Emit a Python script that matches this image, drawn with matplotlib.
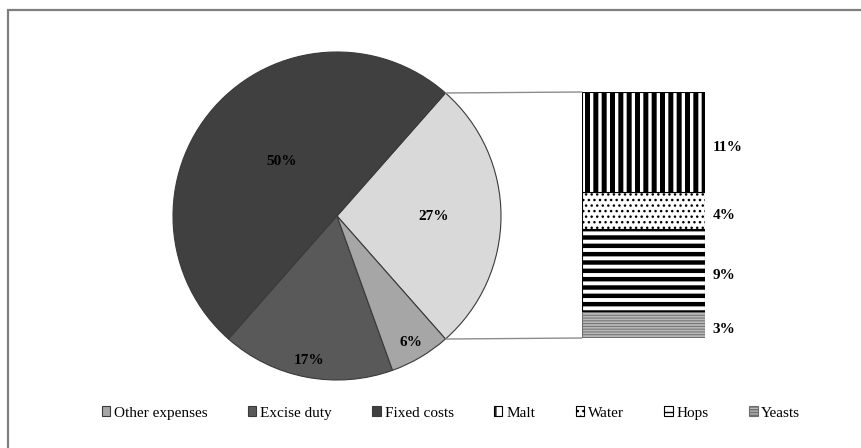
import numpy as np
import matplotlib
matplotlib.use("Agg")
import matplotlib.pyplot as plt
from matplotlib.patches import ConnectionPatch, Rectangle

plt.rcParams['font.family'] = ['Liberation Serif', 'DejaVu Serif']

# pie part
pie_labels = ["Other costs", "Fixed costs", "Excise duty", "Other expenses"]
pie_values = [27, 50, 17, 6]
pie_colors = ["#d9d9d9", "#404040", "#595959", "#a6a6a6"]

# bar part (breakdown of the 27% slice), bottom -> top
bar_labels = ["Yeasts", "Hops", "Water", "Malt"]
bar_values = [3, 9, 4, 11]
bar_hatch = ["------", "--", "...", "||"]
bar_face = ["#b8b8b8", "white", "white", "white"]
bar_edge = ["#6e6e6e", "black", "black", "black"]
bar_hlw = [0.7, 3.2, 1.0, 3.6]

legend_order = ["Other expenses", "Excise duty", "Fixed costs", "Malt", "Water", "Hops", "Yeasts"]

W, H = 861, 448
fig = plt.figure(figsize=(W / 100, H / 100), dpi=100)


def box(x0, y0, x1, y1):
    return [x0 / W, 1 - y1 / H, (x1 - x0) / W, (y1 - y0) / H]


# outer border (cut off at right/bottom as in the reference)
fig.patches.append(Rectangle((8 / W, -0.1), 1.2, 1 - 10 / H + 0.1, transform=fig.transFigure,
                             fill=False, edgecolor="#7f7f7f", linewidth=1.6))

ax = fig.add_axes(box(173, 52, 501, 380))
half = pie_values[0] / 100 * 360 / 2
wedges, _, autotexts = ax.pie(pie_values, colors=pie_colors, startangle=-half, counterclock=True,
                              radius=1, autopct=lambda p: f"{p:.0f}%",
                              wedgeprops=dict(edgecolor="#3a3a3a", linewidth=0.8),
                              textprops=dict(fontsize=11, fontweight="bold", color="black"))
label_pos = [(0.59, 0.0), (-0.34, 0.33), (-0.17, -0.88), (0.45, -0.77)]
for t, p in zip(autotexts, label_pos):
    t.set_position(p)
ax.set_xlim(-1, 1)
ax.set_ylim(-1, 1)
ax.set_aspect("equal")
ax.axis("off")

bx = fig.add_axes(box(582, 92, 705, 338))
bottom = 0
bars = []
for lab, v, h, fc, ec, lw in zip(bar_labels, bar_values, bar_hatch, bar_face, bar_edge, bar_hlw):
    b = bx.bar(0.5, v, width=1, bottom=bottom, color=fc, edgecolor=ec, hatch=h, linewidth=0.8, label=lab)
    for p in b:
        try:
            p.set_hatch_linewidth(lw)
        except AttributeError:
            pass
    bars.append(b[0])
    bx.text(1.06, bottom + v / 2 - 0.6, f"{v}%", ha="left", va="center",
            fontsize=11, fontweight="bold", color="black")
    bottom += v
bx.set_xlim(0, 1)
bx.set_ylim(0, sum(bar_values))
bx.axis("off")

# connecting lines
ang = np.deg2rad(half)
for yb, s in [(sum(bar_values), 1), (0, -1)]:
    con = ConnectionPatch(xyA=(np.cos(ang), s * np.sin(ang)), coordsA=ax.transData,
                          xyB=(0, yb), coordsB=bx.transData, color="#8c8c8c", linewidth=1)
    fig.add_artist(con)

handles = {"Other expenses": wedges[3], "Excise duty": wedges[2], "Fixed costs": wedges[1]}
for lab, b in zip(bar_labels, bars):
    handles[lab] = b
fig.legend([handles[k] for k in legend_order], legend_order, loc="center",
           bbox_to_anchor=(451 / W, 1 - 413 / H), ncol=7, frameon=False,
           fontsize=11, handlelength=0.55, handleheight=0.55, handletextpad=0.25,
           columnspacing=2.65)

fig.savefig("out.png", dpi=100)
